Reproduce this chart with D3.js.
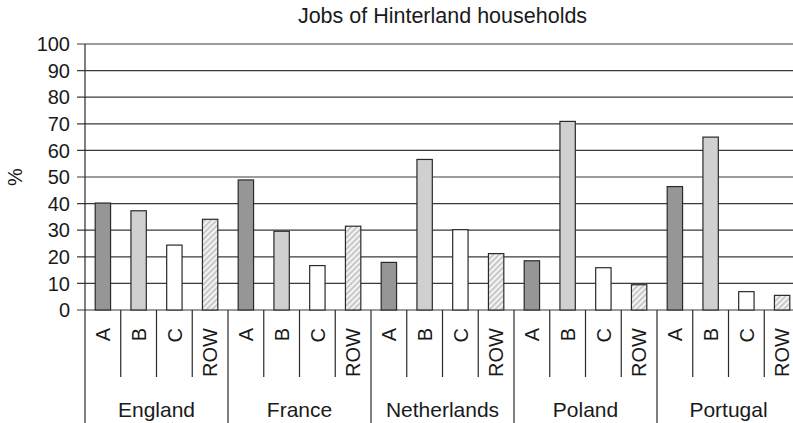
<!DOCTYPE html>
<html>
<head>
<meta charset="utf-8">
<script src="https://cdn.jsdelivr.net/npm/d3@7"></script>
<style>
  body { margin: 0; background: #fff; }
  svg { display: block; font-family: "Liberation Sans", Arial, sans-serif; }
</style>
</head>
<body>
<svg id="chart"></svg>
<script>
const countries = ['England', 'France', 'Netherlands', 'Poland', 'Portugal'];
const jobs = ['A', 'B', 'C', 'ROW'];
// share of households per job type, one value per country
const valuesA = [40.2, 48.9, 17.9, 18.5, 46.4];
const valuesB = [37.3, 29.6, 56.6, 70.9, 65.0];
const valuesC = [24.4, 16.7, 30.2, 15.9, 6.9];
const valuesROW = [34.1, 31.5, 21.2, 9.5, 5.5];
const yTicks = [0, 10, 20, 30, 40, 50, 60, 70, 80, 90, 100];

const series = {A: valuesA, B: valuesB, C: valuesC, ROW: valuesROW};
const fills = {A: '#969696', B: '#d0d0d0', C: '#ffffff', ROW: 'url(#hatch)'};

const width = 793, height = 423;
const margin = {top: 44, left: 85, bottom: 113};
const plotRight = 800; // chart runs off the right edge like the original

const data = [];
countries.forEach(function(c, ci) {
  jobs.forEach(function(j) {
    data.push({country: c, job: j, key: c + '|' + j, value: series[j][ci]});
  });
});

const scaleX = d3.scaleBand()
  .domain(data.map(d => d.key))
  .range([margin.left, plotRight])
  .padding(0);

const scaleY = d3.scaleLinear()
  .domain([0, 100])
  .range([height - margin.bottom, margin.top]);

const svg = d3.select('#chart')
  .attr('width', width)
  .attr('height', height);

// hatch for the ROW bars
const pat = svg.append('defs').append('pattern')
  .attr('id', 'hatch')
  .attr('patternUnits', 'userSpaceOnUse')
  .attr('width', 4)
  .attr('height', 4)
  .attr('patternTransform', 'rotate(45)');
pat.append('rect').attr('width', 4).attr('height', 4).attr('fill', '#f4f4f4');
pat.append('rect').attr('width', 1.8).attr('height', 4).attr('fill', '#c4c4c4');

const y0 = scaleY(0);
const bw = scaleX.bandwidth();

// gridlines
svg.append('g')
  .selectAll('line')
  .data(yTicks)
  .enter()
  .append('line')
  .attr('x1', margin.left - 8)
  .attr('x2', plotRight)
  .attr('y1', d => scaleY(d))
  .attr('y2', d => scaleY(d))
  .attr('stroke', '#3a3a3a')
  .attr('stroke-width', 1.2);

// y tick labels
svg.append('g')
  .selectAll('text')
  .data(yTicks)
  .enter()
  .append('text')
  .attr('x', margin.left - 15)
  .attr('y', d => scaleY(d))
  .attr('dy', '0.36em')
  .attr('text-anchor', 'end')
  .style('font-size', '20px')
  .style('fill', '#1a1a1a')
  .text(d => d);

svg.append('text')
  .attr('transform', 'translate(15,' + ((margin.top + y0) / 2) + ') rotate(-90)')
  .attr('dy', '0.36em')
  .attr('text-anchor', 'middle')
  .style('font-size', '20px')
  .style('fill', '#1a1a1a')
  .text('%');

// bars
svg.append('g')
  .selectAll('rect')
  .data(data)
  .enter()
  .append('rect')
  .attr('x', d => scaleX(d.key) + bw * 0.285)
  .attr('width', bw * 0.43)
  .attr('y', d => scaleY(d.value))
  .attr('height', d => y0 - scaleY(d.value))
  .attr('fill', d => fills[d.job])
  .attr('stroke', '#2a2a2a')
  .attr('stroke-width', 1.2);

// x axis: separators between bars and between countries
const axis = svg.append('g').attr('stroke', '#2a2a2a').attr('stroke-width', 1.2);
axis.append('line')
  .attr('x1', margin.left).attr('x2', margin.left)
  .attr('y1', margin.top).attr('y2', height);
axis.selectAll('.sep')
  .data(data)
  .enter()
  .append('line')
  .attr('class', 'sep')
  .attr('x1', d => scaleX(d.key) + bw)
  .attr('x2', d => scaleX(d.key) + bw)
  .attr('y1', y0)
  .attr('y2', d => d.job === 'ROW' ? height : y0 + 67);

svg.append('g')
  .selectAll('text')
  .data(data)
  .enter()
  .append('text')
  .attr('transform', d => 'translate(' + (scaleX(d.key) + bw / 2) + ',' + (y0 + 18) + ') rotate(-90)')
  .attr('dy', '0.36em')
  .attr('text-anchor', 'end')
  .style('font-size', '20px')
  .style('fill', '#1a1a1a')
  .text(d => d.job);

svg.append('g')
  .selectAll('text')
  .data(countries)
  .enter()
  .append('text')
  .attr('x', d => scaleX(d + '|A') + bw * 2)
  .attr('y', y0 + 107)
  .attr('text-anchor', 'middle')
  .style('font-size', '21px')
  .style('fill', '#1a1a1a')
  .text(d => d);

svg.append('text')
  .attr('x', (margin.left + plotRight) / 2)
  .attr('y', 23)
  .attr('text-anchor', 'middle')
  .style('font-size', '21.5px')
  .style('fill', '#1a1a1a')
  .text('Jobs of Hinterland households');
</script>
</body>
</html>
